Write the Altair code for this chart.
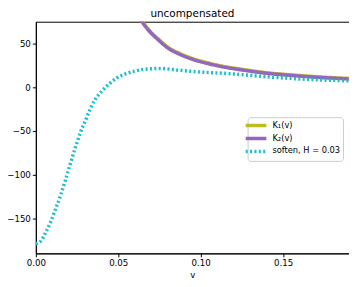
import altair as alt
import pandas as pd

# K curves
v_k = [0.060, 0.064, 0.068, 0.075, 0.080, 0.087, 0.095, 0.105, 0.115, 0.125, 0.140, 0.155, 0.170, 0.190]
k2 = [88, 76, 66, 53, 45, 38, 32, 26.8, 22.8, 19.8, 16.0, 13.5, 11.5, 9.5]
k1 = [89, 77, 67, 54, 46, 39, 33, 27.7, 23.6, 20.6, 16.7, 14.2, 12.1, 10.1]

# softened curve
v_s = [0.000, 0.003, 0.006, 0.009, 0.012, 0.015, 0.018, 0.021, 0.024, 0.027, 0.030, 0.033,
       0.036, 0.040, 0.044, 0.049, 0.054, 0.060, 0.065, 0.075, 0.087, 0.097, 0.107, 0.117,
       0.124, 0.143, 0.163, 0.190]
soft = [-179, -176, -166, -154, -139, -124, -106, -87, -69, -52, -38.5, -25,
        -14, -4.5, 3, 10.5, 15, 18.5, 20.4, 21.5, 19.5, 17.8, 16.7, 15.6,
        14.6, 11.6, 9.2, 7.4]

names = ["K₁(v)", "K₂(v)", "soften, H = 0.03"]
colors = ["#bcbd22", "#9467bd", "#17becf"]
dashes = [[1, 0], [1, 0], [2, 2.4]]
widths = [3.5, 3.5, 2]

rows = []
for v, a, b in zip(v_k, k1, k2):
    rows.append({"v": v, "val": a, "s": names[0]})
    rows.append({"v": v, "val": b, "s": names[1]})
for v, c in zip(v_s, soft):
    rows.append({"v": v, "val": c, "s": names[2]})
df = pd.DataFrame(rows)

FONT = "DejaVu Sans"

legend = alt.Legend(
    title=None, orient="none", legendX=213, legendY=96,
    fillColor="white", strokeColor="#cccccc", cornerRadius=3, padding=2.5,
    labelFontSize=8.3, labelFont=FONT, labelColor="black",
    symbolType="M-2.6,0H2.6", symbolSize=64,
    labelOffset=10.5, rowPadding=-1, labelLimit=200,
)

enc = dict(
    x=alt.X("v:Q", title="v",
            scale=alt.Scale(domain=[0, 0.19], nice=False, zero=False),
            axis=alt.Axis(values=[0, 0.05, 0.10, 0.15], format=".2f", labelFlush=False)),
    y=alt.Y("val:Q", title=None,
            scale=alt.Scale(domain=[-190, 75], nice=False, zero=False),
            axis=alt.Axis(values=[-150, -100, -50, 0, 50], labelFlush=False)),
    color=alt.Color("s:N", scale=alt.Scale(domain=names, range=colors), legend=legend),
    strokeDash=alt.StrokeDash("s:N", scale=alt.Scale(domain=names, range=dashes), legend=legend),
    strokeWidth=alt.StrokeWidth("s:N", scale=alt.Scale(domain=names, range=widths), legend=legend),
)

layers = []
for n in names:
    layers.append(
        alt.Chart(df).transform_filter(alt.datum.s == n)
        .mark_line(clip=True, interpolate="monotone").encode(**enc)
    )

chart = alt.layer(*layers).properties(
    width=315, height=233,
    title=alt.TitleParams("uncompensated", fontSize=10.5, fontWeight="normal",
                          font=FONT, offset=2, color="black"),
    autosize=alt.AutoSizeParams(type="none"),
    padding={"left": 28, "top": 13, "right": 0, "bottom": 25},
).configure_view(stroke="black", strokeWidth=1).configure_axis(
    grid=False, domainColor="black", tickColor="black", tickSize=3.5,
    labelFontSize=8.7, labelFont=FONT, labelColor="black",
    titleFontSize=8.7, titleFont=FONT, titleFontWeight="normal", titleColor="black",
    labelPadding=2,
).configure_axisX(titlePadding=3)

chart.save("out.html", embed_options={"renderer": "svg", "actions": False})
